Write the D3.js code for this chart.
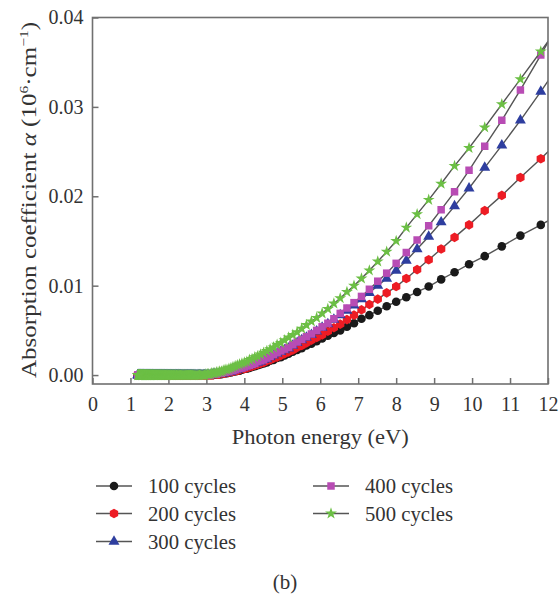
<!DOCTYPE html>
<html><head><meta charset="utf-8">
<script src="https://cdn.jsdelivr.net/npm/d3@7/dist/d3.min.js"></script>
<style>body{margin:0;background:#fff}svg{display:block}</style>
</head><body>
<script>
// Photon energy (eV) of every measured point
const energy = [
12.400,11.810,11.273,10.783,10.333,9.920,9.538,9.185,8.857,8.552,
8.267,8.000,7.750,7.515,7.294,7.086,6.889,6.703,6.526,6.359,
6.200,6.049,5.905,5.767,5.636,5.511,5.391,5.277,5.167,5.061,
4.960,4.863,4.769,4.679,4.593,4.509,4.429,4.351,4.276,4.203,
4.133,4.066,4.000,3.937,3.875,3.815,3.758,3.701,3.647,3.594,
3.543,3.493,3.444,3.397,3.351,3.307,3.263,3.221,3.179,3.139,
3.100,3.062,3.024,2.988,2.952,2.918,2.884,2.851,2.818,2.787,
2.756,2.725,2.696,2.667,2.638,2.611,2.583,2.557,2.531,2.505,
2.480,2.455,2.431,2.408,2.385,2.362,2.340,2.318,2.296,2.275,
2.255,2.234,2.214,2.195,2.175,2.157,2.138,2.120,2.102,2.084,
2.067,2.050,2.033,2.016,2.000,1.984,1.968,1.953,1.938,1.922,
1.908,1.893,1.879,1.865,1.851,1.837,1.824,1.810,1.797,1.784,
1.771,1.759,1.746,1.734,1.722,1.710,1.699,1.687,1.676,1.664,
1.653,1.642,1.632,1.621,1.610,1.600,1.590,1.580,1.570,1.560,
1.550,1.540,1.531,1.521,1.512,1.503,1.494,1.485,1.476,1.467,
1.459,1.450,1.442,1.434,1.425,1.417,1.409,1.401,1.393,1.385,
1.378,1.370,1.363,1.355,1.348,1.341,1.333,1.326,1.319,1.312,
1.305,1.298,1.292,1.285,1.278,1.272,1.265,1.259,1.253,1.246,
1.240,1.234,1.228,1.222,1.216,1.210,1.204,1.198,1.192];

// Absorption coefficient (10^6 cm^-1) for each series
const alpha100 = [
0.0182,0.0168,0.0156,0.0144,0.0133,0.0124,0.0115,0.0107,0.0099,0.0093,
0.0087,0.0082,0.0077,0.0072,0.0067,0.0063,0.0058,0.0054,0.0050,0.0047,
0.0044,0.0041,0.0038,0.0035,0.0033,0.0030,0.0028,0.0026,0.0024,0.0022,
0.0020,0.0019,0.0017,0.0016,0.0014,0.0013,0.0012,0.0011,0.0010,0.0009,
0.0008,0.0007,0.0007,0.0006,0.0005,0.0005,0.0004,0.0004,0.0003,0.0003,
0.0002,0.0002,0.0002,0.0001,0.0001,0.0001,0.0001,0.0001,0,0,
0,0,0,0,0,0,0,0,0,0,
0,0,0,0,0,0,0,0,0,0,
0,0,0,0,0,0,0,0,0,0,
0,0,0,0,0,0,0,0,0,0,
0,0,0,0,0,0,0,0,0,0,
0,0,0,0,0,0,0,0,0,0,
0,0,0,0,0,0,0,0,0,0,
0,0,0,0,0,0,0,0,0,0,
0,0,0,0,0,0,0,0,0,0,
0,0,0,0,0,0,0,0,0,0,
0,0,0,0,0,0,0,0,0,0,
0,0,0,0,0,0,0,0,0,0,
0,0,0,0,0,0,0,0,0];
const alpha200 = [
0.0266,0.0242,0.0221,0.0201,0.0184,0.0168,0.0154,0.0141,0.0129,0.0118,
0.0108,0.0099,0.0092,0.0085,0.0079,0.0073,0.0067,0.0062,0.0057,0.0053,
0.0049,0.0045,0.0042,0.0039,0.0036,0.0033,0.0031,0.0028,0.0026,0.0024,
0.0022,0.0020,0.0019,0.0017,0.0016,0.0014,0.0013,0.0012,0.0011,0.0010,
0.0009,0.0008,0.0007,0.0007,0.0006,0.0005,0.0005,0.0004,0.0004,0.0003,
0.0003,0.0002,0.0002,0.0002,0.0001,0.0001,0.0001,0.0001,0,0,
0,0,0,0,0,0,0,0,0,0,
0,0,0,0,0,0,0,0,0,0,
0,0,0,0,0,0,0,0,0,0,
0,0,0,0,0,0,0,0,0,0,
0,0,0,0,0,0,0,0,0,0,
0,0,0,0,0,0,0,0,0,0,
0,0,0,0,0,0,0,0,0,0,
0,0,0,0,0,0,0,0,0,0,
0,0,0,0,0,0,0,0,0,0,
0,0,0,0,0,0,0,0,0,0,
0,0,0,0,0,0,0,0,0,0,
0,0,0,0,0,0,0,0,0,0,
0,0,0,0,0,0,0,0,0];
const alpha300 = [
0.0354,0.0317,0.0285,0.0257,0.0232,0.0209,0.0189,0.0171,0.0155,0.0141,
0.0128,0.0117,0.0108,0.0100,0.0092,0.0085,0.0078,0.0072,0.0067,0.0062,
0.0057,0.0053,0.0049,0.0045,0.0042,0.0039,0.0036,0.0033,0.0030,0.0028,
0.0026,0.0024,0.0022,0.0020,0.0018,0.0017,0.0015,0.0014,0.0013,0.0012,
0.0011,0.0010,0.0009,0.0008,0.0007,0.0006,0.0006,0.0005,0.0004,0.0004,
0.0003,0.0003,0.0002,0.0002,0.0002,0.0001,0.0001,0.0001,0.0001,0,
0,0,0,0,0,0,0,0,0,0,
0,0,0,0,0,0,0,0,0,0,
0,0,0,0,0,0,0,0,0,0,
0,0,0,0,0,0,0,0,0,0,
0,0,0,0,0,0,0,0,0,0,
0,0,0,0,0,0,0,0,0,0,
0,0,0,0,0,0,0,0,0,0,
0,0,0,0,0,0,0,0,0,0,
0,0,0,0,0,0,0,0,0,0,
0,0,0,0,0,0,0,0,0,0,
0,0,0,0,0,0,0,0,0,0,
0,0,0,0,0,0,0,0,0,0,
0,0,0,0,0,0,0,0,0];
const alpha400 = [
0.0403,0.0358,0.0319,0.0285,0.0256,0.0229,0.0205,0.0185,0.0167,0.0151,
0.0137,0.0125,0.0114,0.0105,0.0096,0.0088,0.0081,0.0075,0.0069,0.0063,
0.0058,0.0054,0.0050,0.0046,0.0043,0.0040,0.0037,0.0034,0.0031,0.0029,
0.0027,0.0025,0.0023,0.0021,0.0019,0.0017,0.0016,0.0015,0.0013,0.0012,
0.0011,0.0010,0.0009,0.0008,0.0008,0.0007,0.0006,0.0005,0.0005,0.0004,
0.0004,0.0003,0.0003,0.0002,0.0002,0.0002,0.0001,0.0001,0.0001,0.0001,
0,0,0,0,0,0,0,0,0,0,
0,0,0,0,0,0,0,0,0,0,
0,0,0,0,0,0,0,0,0,0,
0,0,0,0,0,0,0,0,0,0,
0,0,0,0,0,0,0,0,0,0,
0,0,0,0,0,0,0,0,0,0,
0,0,0,0,0,0,0,0,0,0,
0,0,0,0,0,0,0,0,0,0,
0,0,0,0,0,0,0,0,0,0,
0,0,0,0,0,0,0,0,0,0,
0,0,0,0,0,0,0,0,0,0,
0,0,0,0,0,0,0,0,0,0,
0,0,0,0,0,0,0,0,0];
const alpha500 = [
0.0397,0.0362,0.0331,0.0303,0.0277,0.0254,0.0234,0.0214,0.0196,0.0180,
0.0165,0.0150,0.0138,0.0127,0.0117,0.0108,0.0100,0.0093,0.0086,0.0080,
0.0074,0.0069,0.0064,0.0060,0.0056,0.0052,0.0048,0.0045,0.0042,0.0039,
0.0036,0.0034,0.0031,0.0029,0.0027,0.0025,0.0023,0.0021,0.0020,0.0018,
0.0017,0.0015,0.0014,0.0013,0.0012,0.0011,0.0010,0.0009,0.0008,0.0007,
0.0006,0.0006,0.0005,0.0004,0.0004,0.0003,0.0003,0.0002,0.0002,0.0002,
0.0001,0.0001,0.0001,0.0001,0,0,0,0,0,0,
0,0,0,0,0,0,0,0,0,0,
0,0,0,0,0,0,0,0,0,0,
0,0,0,0,0,0,0,0,0,0,
0,0,0,0,0,0,0,0,0,0,
0,0,0,0,0,0,0,0,0,0,
0,0,0,0,0,0,0,0,0,0,
0,0,0,0,0,0,0,0,0,0,
0,0,0,0,0,0,0,0,0,0,
0,0,0,0,0,0,0,0,0,0,
0,0,0,0,0,0,0,0,0,0,
0,0,0,0,0,0,0,0,0,0,
0,0,0,0,0,0,0,0,0];

const seriesNames = ["100 cycles","200 cycles","300 cycles","400 cycles","500 cycles"];
const xTicks = [0,1,2,3,4,5,6,7,8,9,10,11,12];
const yTicks = [0,0.01,0.02,0.03,0.04];

const hexagon = {draw(ctx, size){
  const r = Math.sqrt(size / (1.5*Math.sqrt(3)));
  for (let k=0;k<6;k++){
    const a = -Math.PI/2 + k*Math.PI/3;
    if (k===0) ctx.moveTo(r*Math.cos(a), r*Math.sin(a)); else ctx.lineTo(r*Math.cos(a), r*Math.sin(a));
  }
  ctx.closePath();
}};

const series = [
  {name:seriesNames[0], values:alpha100, color:"#1a1a1a", type:d3.symbolCircle,   size:58},
  {name:seriesNames[1], values:alpha200, color:"#ed1c24", type:hexagon,           size:60},
  {name:seriesNames[2], values:alpha300, color:"#2e3e9f", type:d3.symbolTriangle, size:52},
  {name:seriesNames[3], values:alpha400, color:"#b84cb4", type:d3.symbolSquare,   size:56},
  {name:seriesNames[4], values:alpha500, color:"#6cbf45", type:d3.symbolStar,     size:44}
];

const W=560, H=596;
const L=92.5, R=548, T=17.5, B=384;
const svg = d3.select("body").append("svg").attr("width",W).attr("height",H)
  .style("font-family","'Liberation Serif','Times New Roman',serif");

const x = d3.scaleLinear().domain([0,12]).range([L,R]);
const y = d3.scaleLinear().domain([-0.001,0.04]).range([B,T]);

svg.append("defs").append("clipPath").attr("id","plotclip")
  .append("rect").attr("x",L).attr("y",T).attr("width",R-L).attr("height",B-T);

const frameColor = "#707070";

// axes
const gx = svg.append("g").attr("transform",`translate(0,${B})`)
  .call(d3.axisBottom(x).tickValues(xTicks).tickFormat(d3.format("d")).tickSize(-6).tickPadding(13));
const gy = svg.append("g").attr("transform",`translate(${L},0)`)
  .call(d3.axisLeft(y).tickValues(yTicks).tickFormat(d3.format(".2f")).tickSize(-6).tickPadding(9));
[gx,gy].forEach(g=>{
  g.select(".domain").remove();
  g.selectAll(".tick line").attr("stroke",frameColor).attr("stroke-width",1.5);
  g.selectAll(".tick text").attr("fill","#333").style("font-size","20px").style("font-family","'Liberation Serif',serif");
});

// data
const plot = svg.append("g").attr("clip-path","url(#plotclip)");
const line = d3.line().x((d,i)=>x(energy[i])).y(d=>y(d));
series.forEach(s=>{
  plot.append("path").attr("d", line(s.values)).attr("fill","none")
    .attr("stroke","#555").attr("stroke-width",1.4);
  plot.append("g").selectAll("path").data(s.values).join("path")
    .attr("transform",(d,i)=>`translate(${x(energy[i])},${y(d)})`)
    .attr("d", d3.symbol().type(s.type).size(s.size)())
    .attr("fill", s.color);
});

// frame
svg.append("rect").attr("x",L).attr("y",T).attr("width",R-L).attr("height",B-T)
  .attr("fill","none").attr("stroke",frameColor).attr("stroke-width",1.6);

// axis titles
svg.append("text").attr("x",(L+R)/2).attr("y",444).attr("text-anchor","middle")
  .attr("fill","#333").style("font-size","21px")
  .attr("textLength",177).attr("lengthAdjust","spacingAndGlyphs")
  .text("Photon energy (eV)");

const yt = svg.append("text").attr("transform","translate(36,200) rotate(-90)")
  .attr("text-anchor","middle").attr("fill","#333").style("font-size","21px")
  .attr("textLength",356).attr("lengthAdjust","spacingAndGlyphs");
yt.append("tspan").text("Absorption coefficient ");
yt.append("tspan").style("font-style","italic").text("α");
yt.append("tspan").text(" (10");
yt.append("tspan").attr("dy",-8).style("font-size","13px").text("6");
yt.append("tspan").attr("dy",8).text("·cm");
yt.append("tspan").attr("dy",-8).style("font-size","13px").text("−1");
yt.append("tspan").attr("dy",8).text(")");

// legend
const legendPos = [[96,486],[96,513.5],[96,541.5],[313,486],[313,513.5]];
series.forEach((s,i)=>{
  const [lx,ly] = legendPos[i];
  const g = svg.append("g").attr("transform",`translate(${lx},${ly})`);
  g.append("line").attr("x1",0).attr("x2",36).attr("y1",0).attr("y2",0)
    .attr("stroke","#555").attr("stroke-width",1.5);
  g.append("path").attr("transform","translate(18,0)")
    .attr("d", d3.symbol().type(s.type).size(s.size)()).attr("fill", s.color);
  g.append("text").attr("x",52).attr("y",7).attr("fill","#333")
    .style("font-size","20px").attr("textLength",88).attr("lengthAdjust","spacingAndGlyphs")
    .text(s.name);
});

svg.append("text").attr("x",285).attr("y",589).attr("text-anchor","middle")
  .attr("fill","#333").style("font-size","21px").text("(b)");
</script>
</body></html>
